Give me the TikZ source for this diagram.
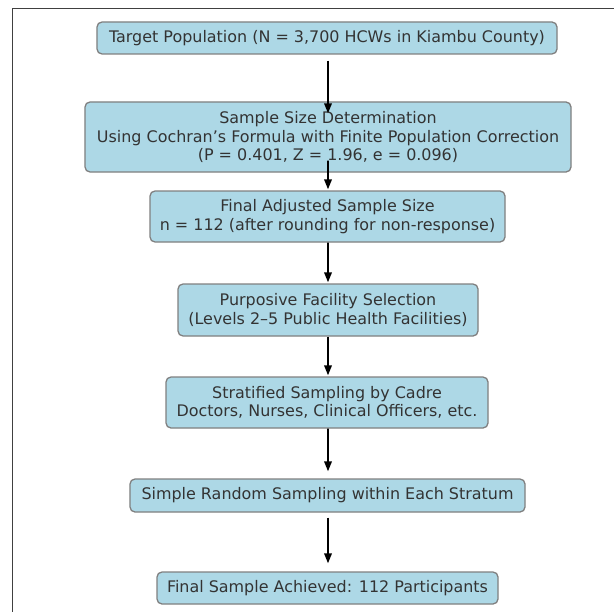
\documentclass[tikz,border=0pt]{standalone}
\usepackage{fontspec}
\setmainfont{DejaVu Sans}
\usetikzlibrary{arrows.meta}
\definecolor{boxfill}{HTML}{ADD8E6}
\definecolor{boxline}{HTML}{808080}
\definecolor{txt}{HTML}{333333}
\begin{document}
\begin{tikzpicture}[x=1bp,y=-1bp,
  stepbox/.style={draw=boxline,line width=1.3bp,fill=boxfill,rounded corners=5bp,
    align=center,text=txt,inner sep=0pt,font=\fontsize{16}{18.5}\selectfont},
  arr/.style={-{Triangle[length=10bp,width=7.5bp]},line width=1.8bp,black}]
\useasboundingbox (0,0) rectangle (614,612);
\fill[white] (0,0) rectangle (614,612);
\draw[line width=1.6bp,black!75] (12.5,612) -- (12.5,8.5) -- (614,8.5);
\node[stepbox,minimum width=460bp,minimum height=32bp] (b1) at (327,38)
  {Target Population (N = 3,700 HCWs in Kiambu County)};
\node[stepbox,minimum width=486bp,minimum height=70bp] (b2) at (328,137)
  {Sample Size Determination\\Using Cochran’s Formula with Finite Population Correction\\(P = 0.401, Z = 1.96, e = 0.096)};
\node[stepbox,minimum width=355bp,minimum height=51bp] (b3) at (327.5,216.5)
  {Final Adjusted Sample Size\\n = 112 (after rounding for non-response)};
\node[stepbox,minimum width=300bp,minimum height=52bp] (b4) at (328,310)
  {Purposive Facility Selection\\(Levels 2–5 Public Health Facilities)};
\node[stepbox,minimum width=322bp,minimum height=51bp] (b5) at (327,402.5)
  {Stratified Sampling by Cadre\\Doctors, Nurses, Clinical Officers, etc.};
\node[stepbox,minimum width=395bp,minimum height=33bp] (b6) at (327.5,495.5)
  {Simple Random Sampling within Each Stratum};
\node[stepbox,minimum width=341bp,minimum height=32bp] (b7) at (327.5,588)
  {Final Sample Achieved: 112 Participants};
\draw[arr] ([xshift=1bp,yshift=-6bp]b1.south) -- ([yshift=-12bp]b2.north);
\draw[arr] ([yshift=12bp]b2.south) -- ([xshift=0.5bp,yshift=1bp]b3.north);
\draw[arr] ([xshift=0.5bp]b3.south) -- ([yshift=1bp]b4.north);
\draw[arr] (b4.south) -- ([xshift=1bp,yshift=1bp]b5.north);
\draw[arr] ([xshift=1bp]b5.south) -- ([xshift=0.5bp,yshift=7bp]b6.north);
\draw[arr] ([xshift=0.5bp,yshift=-5bp]b6.south) -- ([xshift=0.5bp,yshift=8bp]b7.north);
\end{tikzpicture}
\end{document}
